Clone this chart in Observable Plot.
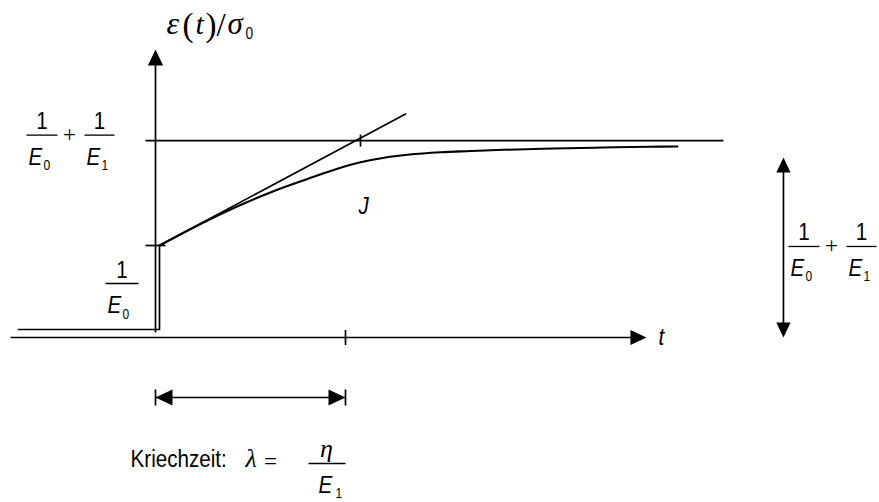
<!DOCTYPE html>
<html>
<head>
<meta charset="utf-8">
<script src="https://cdn.jsdelivr.net/npm/d3@7"></script>
<script src="https://cdn.jsdelivr.net/npm/@observablehq/plot@0.6"></script>
<style>
  html, body { margin: 0; padding: 0; background: #fff; }
  #chart svg { display: block; }
</style>
</head>
<body>
<div id="chart"></div>
<script>
// Creep compliance of the standard linear solid (three-parameter model).
// Time is measured in units of the creep time λ = η/E1,
// compliance ε(t)/σ0 in units of 1/E0.

// ---- values ------------------------------------------------------------
const lambda = 1.0;   // creep time λ = η/E1
const J0 = 1.0;       // 1/E0, instantaneous response at t = 0
const Jinf = 2.14;    // 1/E0 + 1/E1, long-term limit

// creep curve J(t)
const creepT = [0.021, 0.274, 0.447, 0.621, 0.800, 0.974, 1.079, 1.211, 1.326, 1.500, 1.658, 1.832, 2.095, 2.358, 2.605, 2.747];
const creepJ = [1.000, 1.272, 1.440, 1.590, 1.723, 1.845, 1.904, 1.957, 1.986, 2.014, 2.027, 2.040, 2.054, 2.065, 2.073, 2.076];

// initial tangent of the creep curve and where it meets the limit line
const tangentT = [0.021, 1.316];
const tangentJ = [1.000, 2.430];
const tangentHitT = 1.079;

// strain history before loading and the jump at t = 0
const stepT = [-0.721, 0.021, 0.021];
const stepJ = [0.087, 0.087, 1.000];

// ---- frame ---------------------------------------------------------------
const W = 879, H = 502;
const X0 = 155, KX = 190;   // pixel of t = 0, pixels per λ
const Y0 = 337, KY = 92;    // pixel of J = 0, pixels per 1/E0
const xDomain = [-X0 / KX, (W - X0) / KX];
const yDomain = [-(H - Y0) / KY, Y0 / KY];

// extents of the drawn axes and guides (t in λ, J in 1/E0)
const xAxisT = [-0.763, 2.584];
const yAxisJ = [0.054, 3.13];
const limitT = [-0.053, 2.989];
const spanT = 3.305;            // right-hand double arrow
const spanJ = [0, 1.957];
const dimJ = -0.652;            // level of the λ dimension line

const ink = "#000";
const sans = "'Liberation Sans', Arial, sans-serif";
const serif = "'Liberation Serif', 'Times New Roman', serif";
const narrow = 0.86;            // horizontal squeeze of the sans-serif lettering

// symbols: filled arrowhead (tip at the anchor, pointing up) and short ticks
const head = {
  draw(ctx, size) {
    const r = Math.sqrt(size / Math.PI);
    ctx.moveTo(0, 0);
    ctx.lineTo(r * 0.95, 2 * r);
    ctx.lineTo(-r * 0.95, 2 * r);
    ctx.closePath();
  }
};
const vTick = {
  draw(ctx, size) {
    const r = Math.sqrt(size / Math.PI);
    ctx.moveTo(0, -r);
    ctx.lineTo(0, r);
  }
};
const hTick = {
  draw(ctx, size) {
    const r = Math.sqrt(size / Math.PI);
    ctx.moveTo(-r, 0);
    ctx.lineTo(r, 0);
  }
};

const pts = (T, J) => T.map((t, i) => ({t, j: J[i]}));
const seg = (t1, j1, t2, j2) => [{t1, j1, t2, j2}];

function line(data, strokeWidth = 1.7, curve = "linear") {
  return Plot.line(data, {x: "t", y: "j", stroke: ink, strokeWidth, curve});
}
function link(data, strokeWidth = 1.7) {
  return Plot.link(data, {x1: "t1", y1: "j1", x2: "t2", y2: "j2", stroke: ink, strokeWidth});
}
function arrowHead(t, j, rotate, r = 8) {
  return Plot.dot([{t, j}], {x: "t", y: "j", symbol: head, r, rotate, fill: ink, stroke: "none"});
}
function tick(t, j, symbol, r) {
  return Plot.dot([{t, j}], {x: "t", y: "j", symbol, r, fill: "none", stroke: ink, strokeWidth: 1.7});
}

// a text piece at data point (t, j), shifted by (dx, dy) pixels; dy is the baseline
function piece(t, j, text, dx, dy, o = {}) {
  return Plot.text([{t, j}], {
    x: "t", y: "j", text: () => text, dx, dy,
    lineAnchor: "bottom", textAnchor: "start",
    fontFamily: sans, fontSize: 24, fill: ink,
    ...o
  });
}

// fraction 1/E_sub with its bar starting (ox, oy) pixels from (t, j)
function fraction(t, j, ox, oy, sub, w) {
  const t1 = t + ox / KX, t2 = t + (ox + w) / KX, jb = j - oy / KY;
  return [
    link(seg(t1, jb, t2, jb), 1.3),
    piece(t, j, "1", ox + w / 2, oy - 6, {textAnchor: "middle"}),
    piece(t, j, "E", ox + 2, oy + 29.5, {fontStyle: "italic"}),
    piece(t, j, sub, ox + 17, oy + 35, {fontSize: 14})
  ];
}
// 1/E0 + 1/E1
function sum(t, j, ox, oy) {
  return [
    ...fraction(t, j, ox, oy, "0", 31),
    piece(t, j, "+", ox + 43, oy + 6.5, {textAnchor: "middle", fontFamily: serif, fontSize: 23}),
    ...fraction(t, j, ox + 58, oy, "1", 30)
  ];
}

const yTip = yAxisJ[1];
const xTip = xAxisT[1];

const chart = Plot.plot({
  width: W,
  height: H,
  margin: 0,
  x: {domain: xDomain, axis: null},
  y: {domain: yDomain, axis: null},
  style: {background: "#fff", color: ink},
  marks: [
    // axes
    link(seg(xAxisT[0], 0, xTip - 8 / KX, 0)),
    arrowHead(xTip, 0, 90),
    link(seg(0, yAxisJ[0], 0, yTip - 8 / KY)),
    arrowHead(0, yTip, 0),

    // long-term limit 1/E0 + 1/E1
    link(seg(limitT[0], Jinf, limitT[1], Jinf)),

    // load step and creep curve
    line(pts(stepT, stepJ)),
    line(pts(creepT, creepJ), 2.1, "monotone-x"),
    line(pts(tangentT, tangentJ)),

    // ticks
    tick(0, J0, hTick, 10),
    tick(tangentHitT, Jinf, vTick, 6),
    tick(lambda, 0, vTick, 7.5),

    // creep time λ as a dimension line
    link(seg(0, dimJ, lambda, dimJ)),
    tick(0, dimJ, vTick, 8),
    tick(lambda, dimJ, vTick, 8),
    arrowHead(0, dimJ, -90, 8.5),
    arrowHead(lambda, dimJ, 90, 8.5),

    // total creep strain on the right
    link(seg(spanT, spanJ[0] + 8 / KY, spanT, spanJ[1] - 8 / KY)),
    arrowHead(spanT, spanJ[1], 0, 7.5),
    arrowHead(spanT, spanJ[0], 180, 7.5),

    // axis labels
    piece(0, yTip, "ε", 11, -16, {fontFamily: serif, fontStyle: "italic", fontSize: 32}),
    piece(0, yTip, "(", 27, -14, {fontFamily: serif, fontSize: 33}),
    piece(0, yTip, "t", 40, -16, {fontFamily: serif, fontStyle: "italic", fontSize: 30}),
    piece(0, yTip, ")", 50, -14, {fontFamily: serif, fontSize: 33}),
    piece(0, yTip, "/", 61, -14, {fontFamily: serif, fontSize: 33}),
    piece(0, yTip, "σ", 72, -16, {fontFamily: serif, fontStyle: "italic", fontSize: 31}),
    piece(0, yTip, "0", 90, -11, {fontSize: 16}),
    piece(xTip, 0, "t", 12, 7, {fontStyle: "italic"}),
    piece(tangentHitT, Jinf, "J", -2, 73, {fontStyle: "italic"}),

    // level labels
    ...sum(0, Jinf, -129, -5.5),
    ...fraction(0, J0, -50, 38, "0", 33),
    ...sum(spanT, (spanJ[0] + spanJ[1]) / 2, 5, -1),

    // creep time formula
    piece(lambda, dimJ, "Kriechzeit:", -215, 70),
    piece(lambda, dimJ, "λ", -100, 70, {fontFamily: serif, fontStyle: "italic", fontSize: 26}),
    piece(lambda, dimJ, "=", -75, 72, {fontFamily: serif, fontSize: 23, textAnchor: "middle"}),
    link(seg(lambda - 37 / KX, dimJ - 66 / KY, lambda, dimJ - 66 / KY), 1.3),
    piece(lambda, dimJ, "η", -19, 60, {fontFamily: serif, fontStyle: "italic", fontSize: 26, textAnchor: "middle"}),
    piece(lambda, dimJ, "E", -27, 96, {fontStyle: "italic"}),
    piece(lambda, dimJ, "1", -10, 101, {fontSize: 14})
  ]
});

// squeeze the sans-serif lettering horizontally about each text's own anchor
chart.querySelectorAll('g[font-family*="Liberation Sans"] text').forEach(el => {
  const x = +el.getAttribute("x") || 0, y = +el.getAttribute("y") || 0;
  const base = el.getAttribute("transform") || "";
  el.setAttribute("transform", `${base} translate(${x},${y}) scale(${narrow},1) translate(${-x},${-y})`);
});

document.getElementById("chart").append(chart);
</script>
</body>
</html>
